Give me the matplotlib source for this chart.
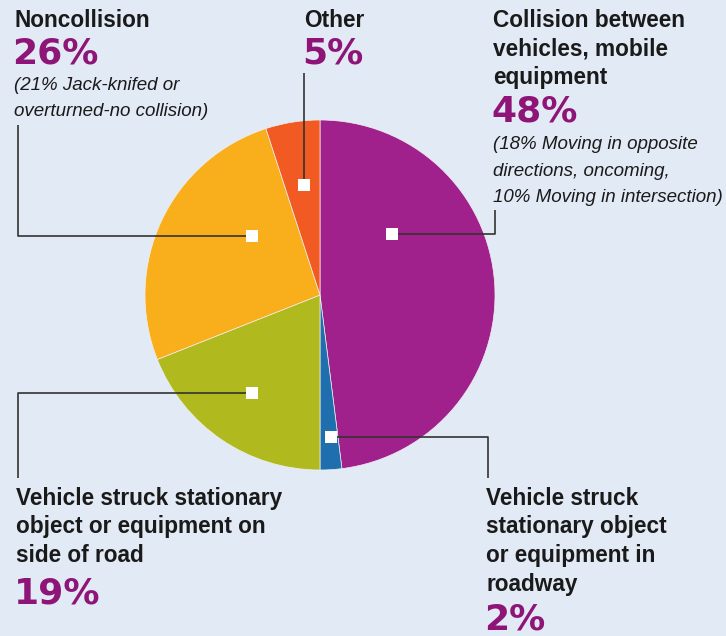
import matplotlib.pyplot as plt

# slice shares, clockwise from 12 o'clock
labels = ['Collision between vehicles, mobile equipment',
          'Vehicle struck stationary object or equipment in roadway',
          'Vehicle struck stationary object or equipment on side of road',
          'Noncollision', 'Other']
shares = [48, 2, 19, 26, 5]
colors = ['#a0218c', '#1f6fae', '#b0ba1e', '#f9ae1b', '#f15a22']

W, H = 726, 636
BG = '#e2eaf5'
PCT = '#8e1577'
INK = '#1a1a1a'
SANS = ['Liberation Sans', 'DejaVu Sans']

fig = plt.figure(figsize=(W / 100, H / 100), dpi=100, facecolor=BG)
ax = fig.add_axes([0, 0, 1, 1])

def Y(y):
    # pixel row (from top) -> data y
    return H - y

cx, cy, r = 320, 295, 175
ax.pie(shares, colors=colors, startangle=90, counterclock=False,
       center=(cx, Y(cy)), radius=r, frame=True,
       wedgeprops=dict(edgecolor='#f0f0f0', linewidth=0.5))
ax.set_xlim(0, W)
ax.set_ylim(0, H)
ax.set_aspect('equal')
ax.axis('off')

# leader lines (pixel coords), first point sits on the slice
leaders = [
    [(304, 185), (304, 73)],
    [(392, 234), (495, 234), (495, 210)],
    [(252, 236), (18, 236), (18, 125)],
    [(252, 393), (18, 393), (18, 478)],
    [(331, 437), (488, 437), (488, 478)],
]
for pts in leaders:
    xs = [p[0] for p in pts]
    ys = [Y(p[1]) for p in pts]
    ax.plot(xs, ys, color='#333333', lw=1.2, solid_capstyle='butt')
    ax.add_patch(plt.Rectangle((pts[0][0] - 6, Y(pts[0][1]) - 6), 12, 12,
                               facecolor='white', edgecolor='none', zorder=5))

def lines(x, y, s, step, **kw):
    # y is the baseline of the first line
    for i, line in enumerate(s.split('\n')):
        ax.text(x, Y(y + i * step), line, va='baseline', ha='left', **kw)

def head(x, y, s):
    lines(x, y, s, 28.5, family=SANS, weight='bold', fontsize=16.3, color=INK)

def pct(x, y, s):
    ax.text(x, Y(y), s, family='DejaVu Sans', weight='bold', fontsize=26,
            color=PCT, va='baseline', ha='left')

def note(x, y, s):
    lines(x, y, s, 26.5, family=SANS, style='italic', fontsize=13.5, color=INK)

head(14, 27, 'Noncollision')
pct(12, 63, '26%')
note(14, 90, '(21% Jack-knifed or\noverturned-no collision)')

head(304, 27, 'Other')
pct(302, 63, '5%')

head(493, 27, 'Collision between\nvehicles, mobile\nequipment')
pct(491, 122, '48%')
note(493, 149, '(18% Moving in opposite\ndirections, oncoming,\n10% Moving in intersection)')

head(16, 505, 'Vehicle struck stationary\nobject or equipment on\nside of road')
pct(14, 603, '19%')

head(486, 505, 'Vehicle struck\nstationary object\nor equipment in\nroadway')
pct(484, 629, '2%')

fig.savefig('out.png', dpi=100, facecolor=BG)
